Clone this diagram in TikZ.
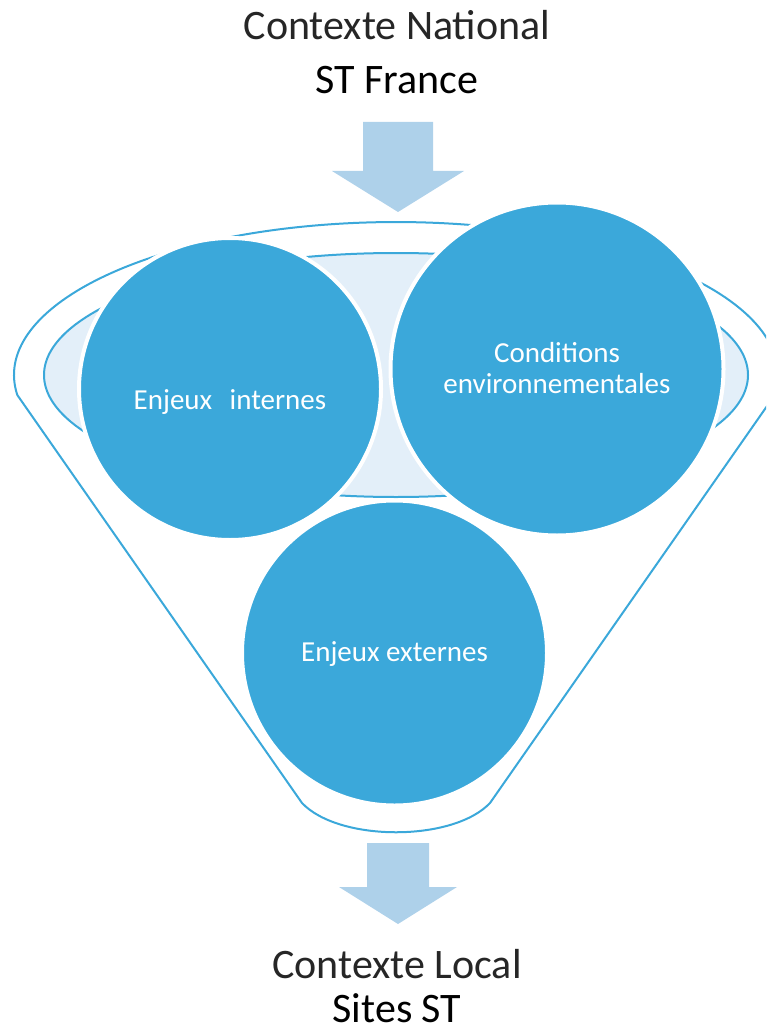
\documentclass[tikz,border=0pt]{standalone}
\usepackage{fontspec}
\setmainfont{Carlito}
\definecolor{circblue}{RGB}{59,168,218}
\definecolor{lineblue}{RGB}{59,168,218}
\definecolor{paleblue}{RGB}{227,239,249}
\definecolor{arrowblue}{RGB}{174,209,234}
\tikzset{
  bigdisc/.style={circle, fill=circblue, draw=white, line width=4pt, inner sep=0pt},
  disctext/.style={text=white, font=\fontsize{29}{31}\selectfont, align=center, anchor=base, inner sep=0pt},
  title/.style={font=\fontsize{42}{50}\selectfont, text=black, anchor=base, inner sep=0pt},
  funnel/.style={draw=lineblue, line width=2pt},
  blockarrow/.style={fill=arrowblue, draw=none},
}
\begin{document}
\begin{tikzpicture}[x=1pt,y=-1pt]
\useasboundingbox (0,0) rectangle (766,1032);
\clip (0,0) rectangle (766,1032);
% titles
\node[title, text=black!85] (natl) at (397,40) {Contexte National};
\node[title] (stfr) at (397,94) {ST France};
\node[title, text=black!85] (locl) at (397,978) {Contexte Local};
\node[title, text depth=0pt] (site) at (397,1022) {Sites ST};
% top block arrow
\fill[blockarrow] (363,122) -- (433,122) -- (433,171) -- (464,171) -- (398,212) -- (332,171) -- (363,171) -- cycle;
% funnel outline
\draw[funnel] (17.3,395) arc[start angle=172.5, end angle=367.5, x radius=382, y radius=153]
  -- (490,803) .. controls (453,842) and (339,842) .. (302,803) -- cycle;
% inner ellipse
\draw[funnel, fill=paleblue] (396,375) ellipse [x radius=352, y radius=122];
% discs
\node[bigdisc, minimum size=302pt] (int) at (230,389) {};
\node[bigdisc, minimum size=333pt] (cond) at (557,369) {};
\node[bigdisc, minimum size=305pt] (ext) at (394.5,653) {};
\node[disctext] (intt) at (230,409) {Enjeux\hspace{0.6em}internes};
\node[disctext] (condt) at (557,393) {Conditions\\environnementales};
\node[disctext] (extt) at (394.5,661) {Enjeux externes};
% bottom block arrow
\fill[blockarrow] (367,843) -- (429,843) -- (429,887) -- (457,887) -- (398,924) -- (339,887) -- (367,887) -- cycle;
\end{tikzpicture}
\end{document}
